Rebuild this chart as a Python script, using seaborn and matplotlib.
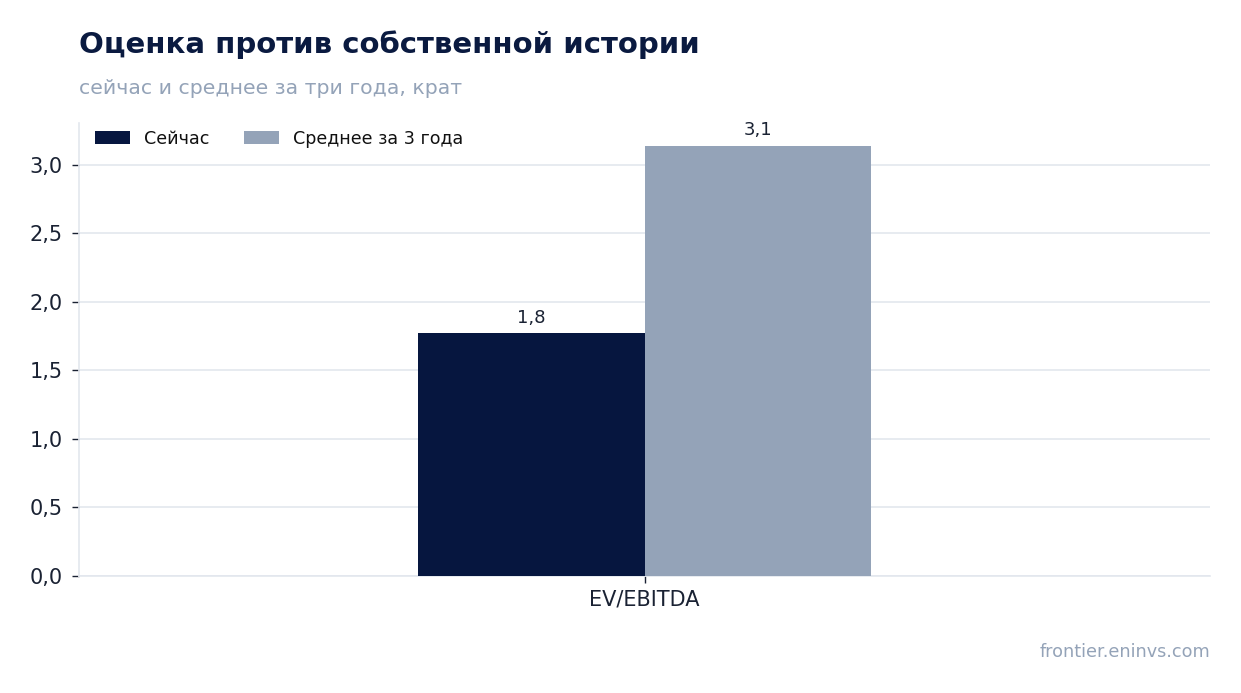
"""Valuation vs own history: EV/EBITDA now and 3-year average."""

import pandas as pd
import matplotlib.pyplot as plt
import seaborn as sns
from matplotlib.ticker import FuncFormatter

# data
metrics = ['EV/EBITDA']
series_names = ['Сейчас', 'Среднее за 3 года']
now_values = [1.77]
avg_values = [3.14]

DARK = '#06163f'
GREY = '#94a3b8'
GRID = '#e3e7ee'

sns.set_style('white')
plt.rcParams['font.family'] = ['DejaVu Sans']

df = pd.DataFrame({
    'metric': metrics * 2,
    'series': [series_names[0]] * len(metrics) + [series_names[1]] * len(metrics),
    'value': now_values + avg_values,
})

fig = plt.figure(figsize=(12.41, 6.93), dpi=100)
ax = fig.add_axes([79 / 1241, 1 - 576 / 693, (1210 - 79) / 1241, (576 - 123) / 693])

sns.barplot(data=df, x='metric', y='value', hue='series',
            palette=[DARK, GREY], width=0.8, saturation=1, linewidth=0,
            ax=ax, zorder=3)

ax.set_xlim(-1, 1)
ax.set_ylim(0, max(avg_values + now_values) * 1.053)
ax.set_yticks([0, 0.5, 1.0, 1.5, 2.0, 2.5, 3.0])
ax.yaxis.set_major_formatter(FuncFormatter(lambda v, _: f"{v:.1f}".replace('.', ',')))
ax.grid(True, axis='y', color=GRID, linewidth=1.2, zorder=0)
ax.set_axisbelow(True)

for side in ['top', 'right']:
    ax.spines[side].set_visible(False)
for side in ['left', 'bottom']:
    ax.spines[side].set_color(GRID)
    ax.spines[side].set_linewidth(1.2)

ax.tick_params(axis='both', labelsize=15, labelcolor='#1a2233', color='#1a2233',
               length=5, width=1, bottom=True, left=True, pad=5)
ax.tick_params(axis='y', pad=7)
ax.set_xlabel('')
ax.set_ylabel('')

for container in ax.containers:
    ax.bar_label(container, labels=[f"{v:.1f}".replace('.', ',') for v in container.datavalues],
                 padding=5, fontsize=13, color='#1a2233')

leg = ax.legend(loc='upper left', ncol=2, frameon=False, fontsize=12.6,
                handlelength=2.0, handleheight=0.8, columnspacing=2.0,
                handletextpad=0.8, bbox_to_anchor=(0.0, 1.02))
for t in leg.get_texts():
    t.set_color('#111111')

fig.text(79 / 1241, 1 - 45 / 693, 'Оценка против собственной истории',
         fontsize=21, fontweight='bold', color='#0a1a40', va='center', ha='left')
fig.text(79 / 1241, 1 - 88 / 693, 'сейчас и среднее за три года, крат',
         fontsize=14.7, color=GREY, va='center', ha='left')
fig.text(1210 / 1241, 1 - 652 / 693, 'frontier.eninvs.com',
         fontsize=12.7, color=GREY, va='center', ha='right')

fig.savefig('out.png', dpi=100)
plt.close(fig)
